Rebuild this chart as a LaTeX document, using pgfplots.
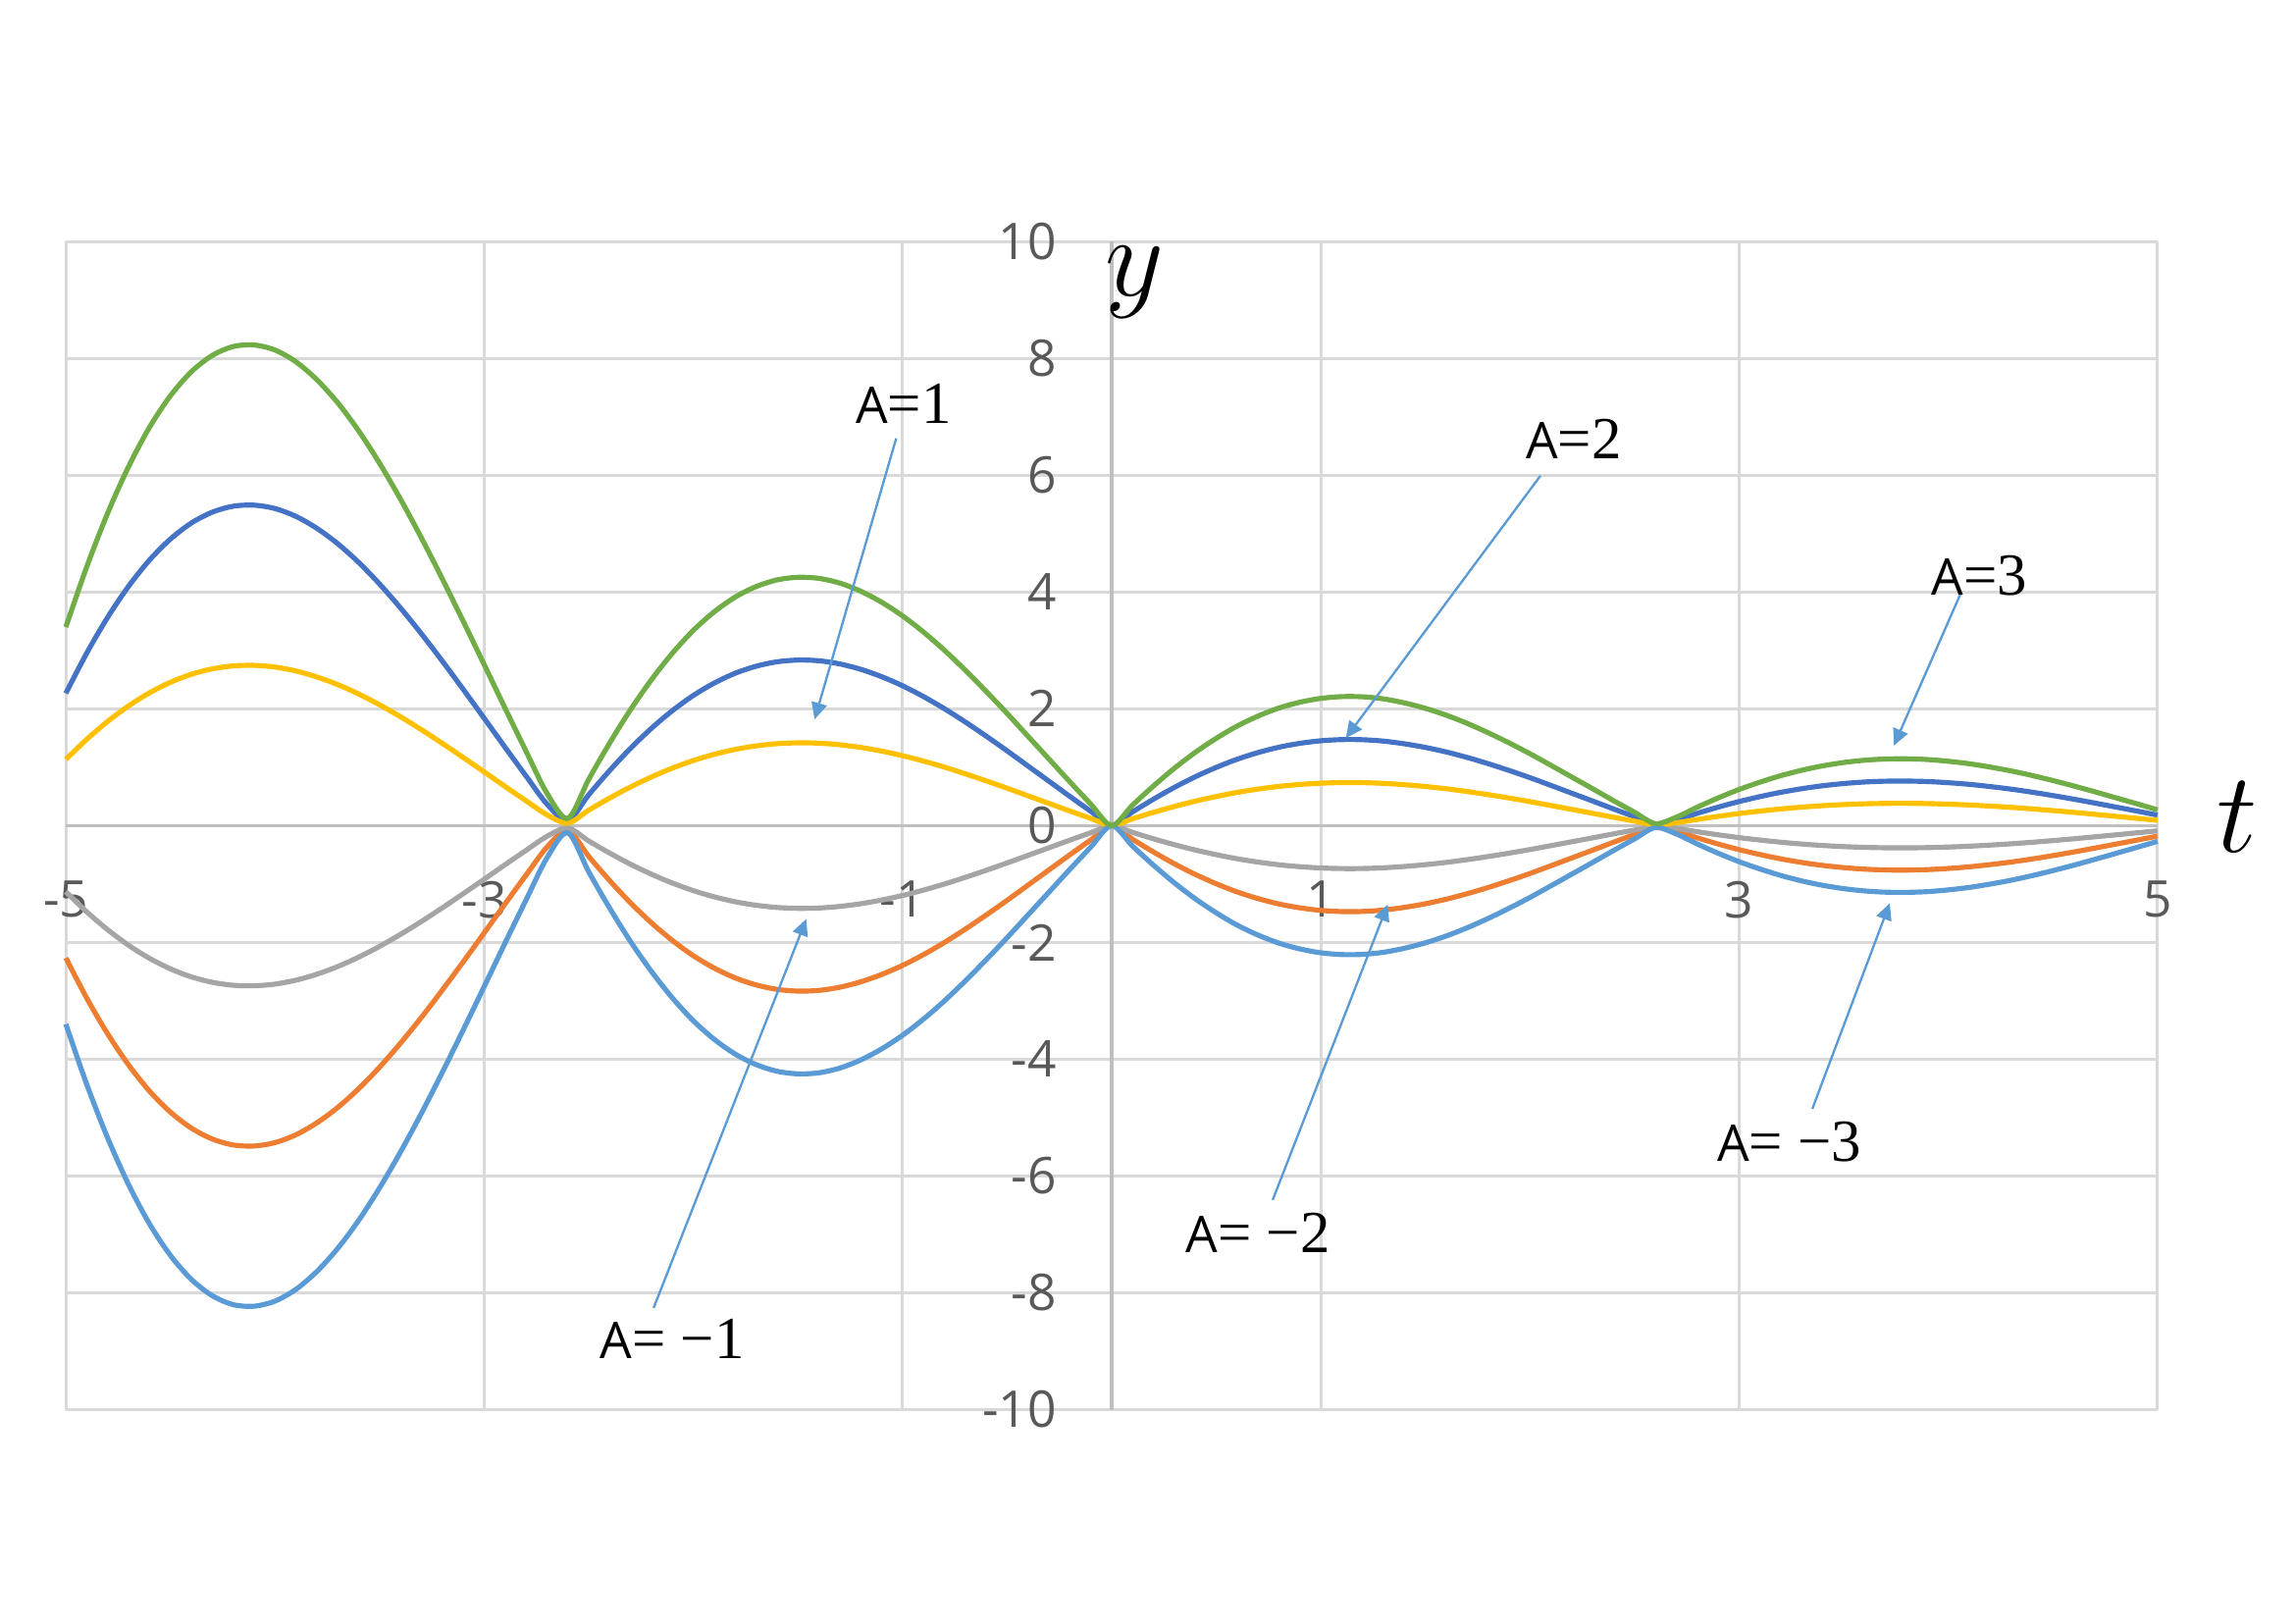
\documentclass[border=0pt]{standalone}
\usepackage[no-math]{fontspec}
\setmainfont{Open Sans}
\newfontfamily\serif{Liberation Serif}
\usepackage{pgfplots}
\pgfplotsset{compat=1.18}
\usetikzlibrary{arrows.meta}

\definecolor{cblue}{HTML}{4472C4}
\definecolor{corange}{HTML}{ED7D31}
\definecolor{cgray}{HTML}{A5A5A5}
\definecolor{cyellow}{HTML}{FFC000}
\definecolor{clight}{HTML}{5B9BD5}
\definecolor{cgreen}{HTML}{70AD47}
\definecolor{gridc}{HTML}{D9D9D9}
\definecolor{axisc}{HTML}{BFBFBF}
\definecolor{tickc}{HTML}{595959}

% t, A=1, A=2, A=3, A=-1, A=-2, A=-3
\pgfplotstableread{
t p1 p2 p3 n1 n2 n3
-5.0 1.133 2.266 3.399 -1.133 -2.266 -3.399
-4.9 1.477 2.954 4.431 -1.477 -2.954 -4.431
-4.8 1.783 3.566 5.349 -1.783 -3.566 -5.349
-4.7 2.049 4.098 6.147 -2.049 -4.098 -6.147
-4.6 2.273 4.546 6.819 -2.273 -4.546 -6.819
-4.5 2.453 4.906 7.359 -2.453 -4.906 -7.359
-4.4 2.590 5.180 7.770 -2.590 -5.180 -7.770
-4.3 2.683 5.366 8.049 -2.683 -5.366 -8.049
-4.2 2.734 5.468 8.202 -2.734 -5.468 -8.202
-4.1 2.743 5.486 8.229 -2.743 -5.486 -8.229
-4.0 2.714 5.428 8.142 -2.714 -5.428 -8.142
-3.9 2.647 5.294 7.941 -2.647 -5.294 -7.941
-3.8 2.545 5.090 7.635 -2.545 -5.090 -7.635
-3.7 2.413 4.826 7.239 -2.413 -4.826 -7.239
-3.6 2.253 4.506 6.759 -2.253 -4.506 -6.759
-3.5 2.068 4.136 6.204 -2.068 -4.136 -6.204
-3.4 1.863 3.726 5.589 -1.863 -3.726 -5.589
-3.3 1.642 3.284 4.926 -1.642 -3.284 -4.926
-3.2 1.408 2.816 4.224 -1.408 -2.816 -4.224
-3.1 1.166 2.332 3.498 -1.166 -2.332 -3.498
-3.0 0.919 1.838 2.757 -0.919 -1.838 -2.757
-2.9 0.670 1.340 2.010 -0.670 -1.340 -2.010
-2.8 0.425 0.850 1.275 -0.425 -0.850 -1.275
-2.7 0.185 0.370 0.555 -0.185 -0.370 -0.555
-2.6 0.041 0.082 0.123 -0.041 -0.082 -0.123
-2.5 0.264 0.528 0.792 -0.264 -0.528 -0.792
-2.4 0.471 0.942 1.413 -0.471 -0.942 -1.413
-2.3 0.662 1.324 1.986 -0.662 -1.324 -1.986
-2.2 0.833 1.666 2.499 -0.833 -1.666 -2.499
-2.1 0.984 1.968 2.952 -0.984 -1.968 -2.952
-2.0 1.114 2.228 3.342 -1.114 -2.228 -3.342
-1.9 1.220 2.440 3.660 -1.220 -2.440 -3.660
-1.8 1.304 2.608 3.912 -1.304 -2.608 -3.912
-1.7 1.364 2.728 4.092 -1.364 -2.728 -4.092
-1.6 1.402 2.804 4.206 -1.402 -2.804 -4.206
-1.5 1.417 2.834 4.251 -1.417 -2.834 -4.251
-1.4 1.411 2.822 4.233 -1.411 -2.822 -4.233
-1.3 1.384 2.768 4.152 -1.384 -2.768 -4.152
-1.2 1.338 2.676 4.014 -1.338 -2.676 -4.014
-1.1 1.275 2.550 3.825 -1.275 -2.550 -3.825
-1.0 1.197 2.394 3.591 -1.197 -2.394 -3.591
-0.9 1.105 2.210 3.315 -1.105 -2.210 -3.315
-0.8 1.001 2.002 3.003 -1.001 -2.002 -3.003
-0.7 0.887 1.774 2.661 -0.887 -1.774 -2.661
-0.6 0.766 1.532 2.298 -0.766 -1.532 -2.298
-0.5 0.640 1.280 1.920 -0.640 -1.280 -1.920
-0.4 0.510 1.020 1.530 -0.510 -1.020 -1.530
-0.3 0.380 0.760 1.140 -0.380 -0.760 -1.140
-0.2 0.250 0.500 0.750 -0.250 -0.500 -0.750
-0.1 0.123 0.246 0.369 -0.123 -0.246 -0.369
0.0 0 0 0 0 0 0
0.1 0.117 0.234 0.351 -0.117 -0.234 -0.351
0.2 0.226 0.452 0.678 -0.226 -0.452 -0.678
0.3 0.327 0.654 0.981 -0.327 -0.654 -0.981
0.4 0.418 0.836 1.254 -0.418 -0.836 -1.254
0.5 0.498 0.996 1.494 -0.498 -0.996 -1.494
0.6 0.568 1.136 1.704 -0.568 -1.136 -1.704
0.7 0.625 1.250 1.875 -0.625 -1.250 -1.875
0.8 0.671 1.342 2.013 -0.671 -1.342 -2.013
0.9 0.704 1.408 2.112 -0.704 -1.408 -2.112
1.0 0.726 1.452 2.178 -0.726 -1.452 -2.178
1.1 0.736 1.472 2.208 -0.736 -1.472 -2.208
1.2 0.735 1.470 2.205 -0.735 -1.470 -2.205
1.3 0.723 1.446 2.169 -0.723 -1.446 -2.169
1.4 0.700 1.400 2.100 -0.700 -1.400 -2.100
1.5 0.669 1.338 2.007 -0.669 -1.338 -2.007
1.6 0.630 1.260 1.890 -0.630 -1.260 -1.890
1.7 0.583 1.166 1.749 -0.583 -1.166 -1.749
1.8 0.530 1.060 1.590 -0.530 -1.060 -1.590
1.9 0.472 0.944 1.416 -0.472 -0.944 -1.416
2.0 0.410 0.820 1.230 -0.410 -0.820 -1.230
2.1 0.344 0.688 1.032 -0.344 -0.688 -1.032
2.2 0.277 0.554 0.831 -0.277 -0.554 -0.831
2.3 0.210 0.420 0.630 -0.210 -0.420 -0.630
2.4 0.142 0.284 0.426 -0.142 -0.284 -0.426
2.5 0.076 0.152 0.228 -0.076 -0.152 -0.228
2.6 0.011 0.022 0.033 -0.011 -0.022 -0.033
2.7 0.048 0.096 0.144 -0.048 -0.096 -0.144
2.8 0.105 0.210 0.315 -0.105 -0.210 -0.315
2.9 0.158 0.316 0.474 -0.158 -0.316 -0.474
3.0 0.206 0.412 0.618 -0.206 -0.412 -0.618
3.1 0.248 0.496 0.744 -0.248 -0.496 -0.744
3.2 0.285 0.570 0.855 -0.285 -0.570 -0.855
3.3 0.316 0.632 0.948 -0.316 -0.632 -0.948
3.4 0.341 0.682 1.023 -0.341 -0.682 -1.023
3.5 0.360 0.720 1.080 -0.360 -0.720 -1.080
3.6 0.373 0.746 1.119 -0.373 -0.746 -1.119
3.7 0.380 0.760 1.140 -0.380 -0.760 -1.140
3.8 0.381 0.762 1.143 -0.381 -0.762 -1.143
3.9 0.377 0.754 1.131 -0.377 -0.754 -1.131
4.0 0.367 0.734 1.101 -0.367 -0.734 -1.101
4.1 0.353 0.706 1.059 -0.353 -0.706 -1.059
4.2 0.334 0.668 1.002 -0.334 -0.668 -1.002
4.3 0.312 0.624 0.936 -0.312 -0.624 -0.936
4.4 0.286 0.572 0.858 -0.286 -0.572 -0.858
4.5 0.257 0.514 0.771 -0.257 -0.514 -0.771
4.6 0.226 0.452 0.678 -0.226 -0.452 -0.678
4.7 0.193 0.386 0.579 -0.193 -0.386 -0.579
4.8 0.159 0.318 0.477 -0.159 -0.318 -0.477
4.9 0.125 0.250 0.375 -0.125 -0.250 -0.375
5.0 0.090 0.180 0.270 -0.090 -0.180 -0.270
}\curves

\begin{document}
\begin{tikzpicture}[
    annot/.style={draw=clight, line width=0.5pt, -{Triangle[length=3.6pt,width=3.4pt]}},
    lab/.style={inner sep=0pt, text=black, font=\fontsize{11}{13}\selectfont},
  ]
  \begin{axis}[
      scale only axis,
      width=16cm, height=8.935cm,
      xmin=-5, xmax=5,
      ymin=-10, ymax=10,
      axis lines=middle,
      axis line style={-, draw=axisc, line width=0.75pt},
      xtick={-5,-3,-1,1,3,5},
      ytick={-10,-8,-6,-4,-2,0,2,4,6,8,10},
      hide obscured y ticks=false,
      major tick length=0pt,
      grid=major,
      grid style={draw=gridc, line width=0.65pt},
      /pgf/number format/assume math mode=true,
      tick label style={font=\fontsize{11}{13}\selectfont, text=tickc},
      xticklabel style={yshift=-8.6pt},
      yticklabel style={xshift=-8.5pt},
      clip=false,
      every axis plot/.append style={line width=1.1pt, no markers},
    ]
    \coordinate (O) at (rel axis cs:0,0);

    \addplot[color=cblue, smooth]   table[x=t, y=p2] {\curves};
    \addplot[color=corange, smooth] table[x=t, y=n2] {\curves};
    \addplot[color=cgray, smooth]   table[x=t, y=n1] {\curves};
    \addplot[color=cyellow, smooth] table[x=t, y=p1] {\curves};
    \addplot[color=clight, smooth]  table[x=t, y=n3] {\curves};
    \addplot[color=cgreen, smooth]  table[x=t, y=p3] {\curves};

    % axis names
    \node[inner sep=0pt] at (axis cs:0.11,9.3) {\fontsize{24}{28}\selectfont$y$};
    \node[inner sep=0pt] at (axis cs:5.38,0.15) {\fontsize{24}{28}\selectfont$t$};

    % annotations
    \draw[annot] (axis cs:-1.03,6.63) -- (axis cs:-1.42,1.82);
    \node[lab] at (axis cs:-0.995,7.23) {A{\fontsize{13}{15}\serif =1}};

    \draw[annot] (axis cs:2.05,5.99) -- (axis cs:1.12,1.50);
    \node[lab] at (axis cs:2.21,6.62) {A{\fontsize{13}{15}\serif =2}};

    \draw[annot] (axis cs:4.06,3.98) -- (axis cs:3.74,1.37);
    \node[lab] at (axis cs:4.15,4.28) {A{\fontsize{13}{15}\serif =3}};

    \draw[annot] (axis cs:-2.19,-8.26) -- (axis cs:-1.46,-1.60);
    \node[lab] at (axis cs:-2.10,-8.78) {A{\fontsize{13}{15}\serif = −1}};

    \draw[annot] (axis cs:0.77,-6.41) -- (axis cs:1.32,-1.35);
    \node[lab] at (axis cs:0.70,-6.98) {A{\fontsize{13}{15}\serif = −2}};

    \draw[annot] (axis cs:3.35,-4.85) -- (axis cs:3.72,-1.33);
    \node[lab] at (axis cs:3.24,-5.41) {A{\fontsize{13}{15}\serif = −3}};
  \end{axis}
  \pgfresetboundingbox
  \path[use as bounding box] ([shift={(-0.5036cm,-1.6325cm)}]O) rectangle ++(17.556cm,12.415cm);
\end{tikzpicture}
\end{document}
